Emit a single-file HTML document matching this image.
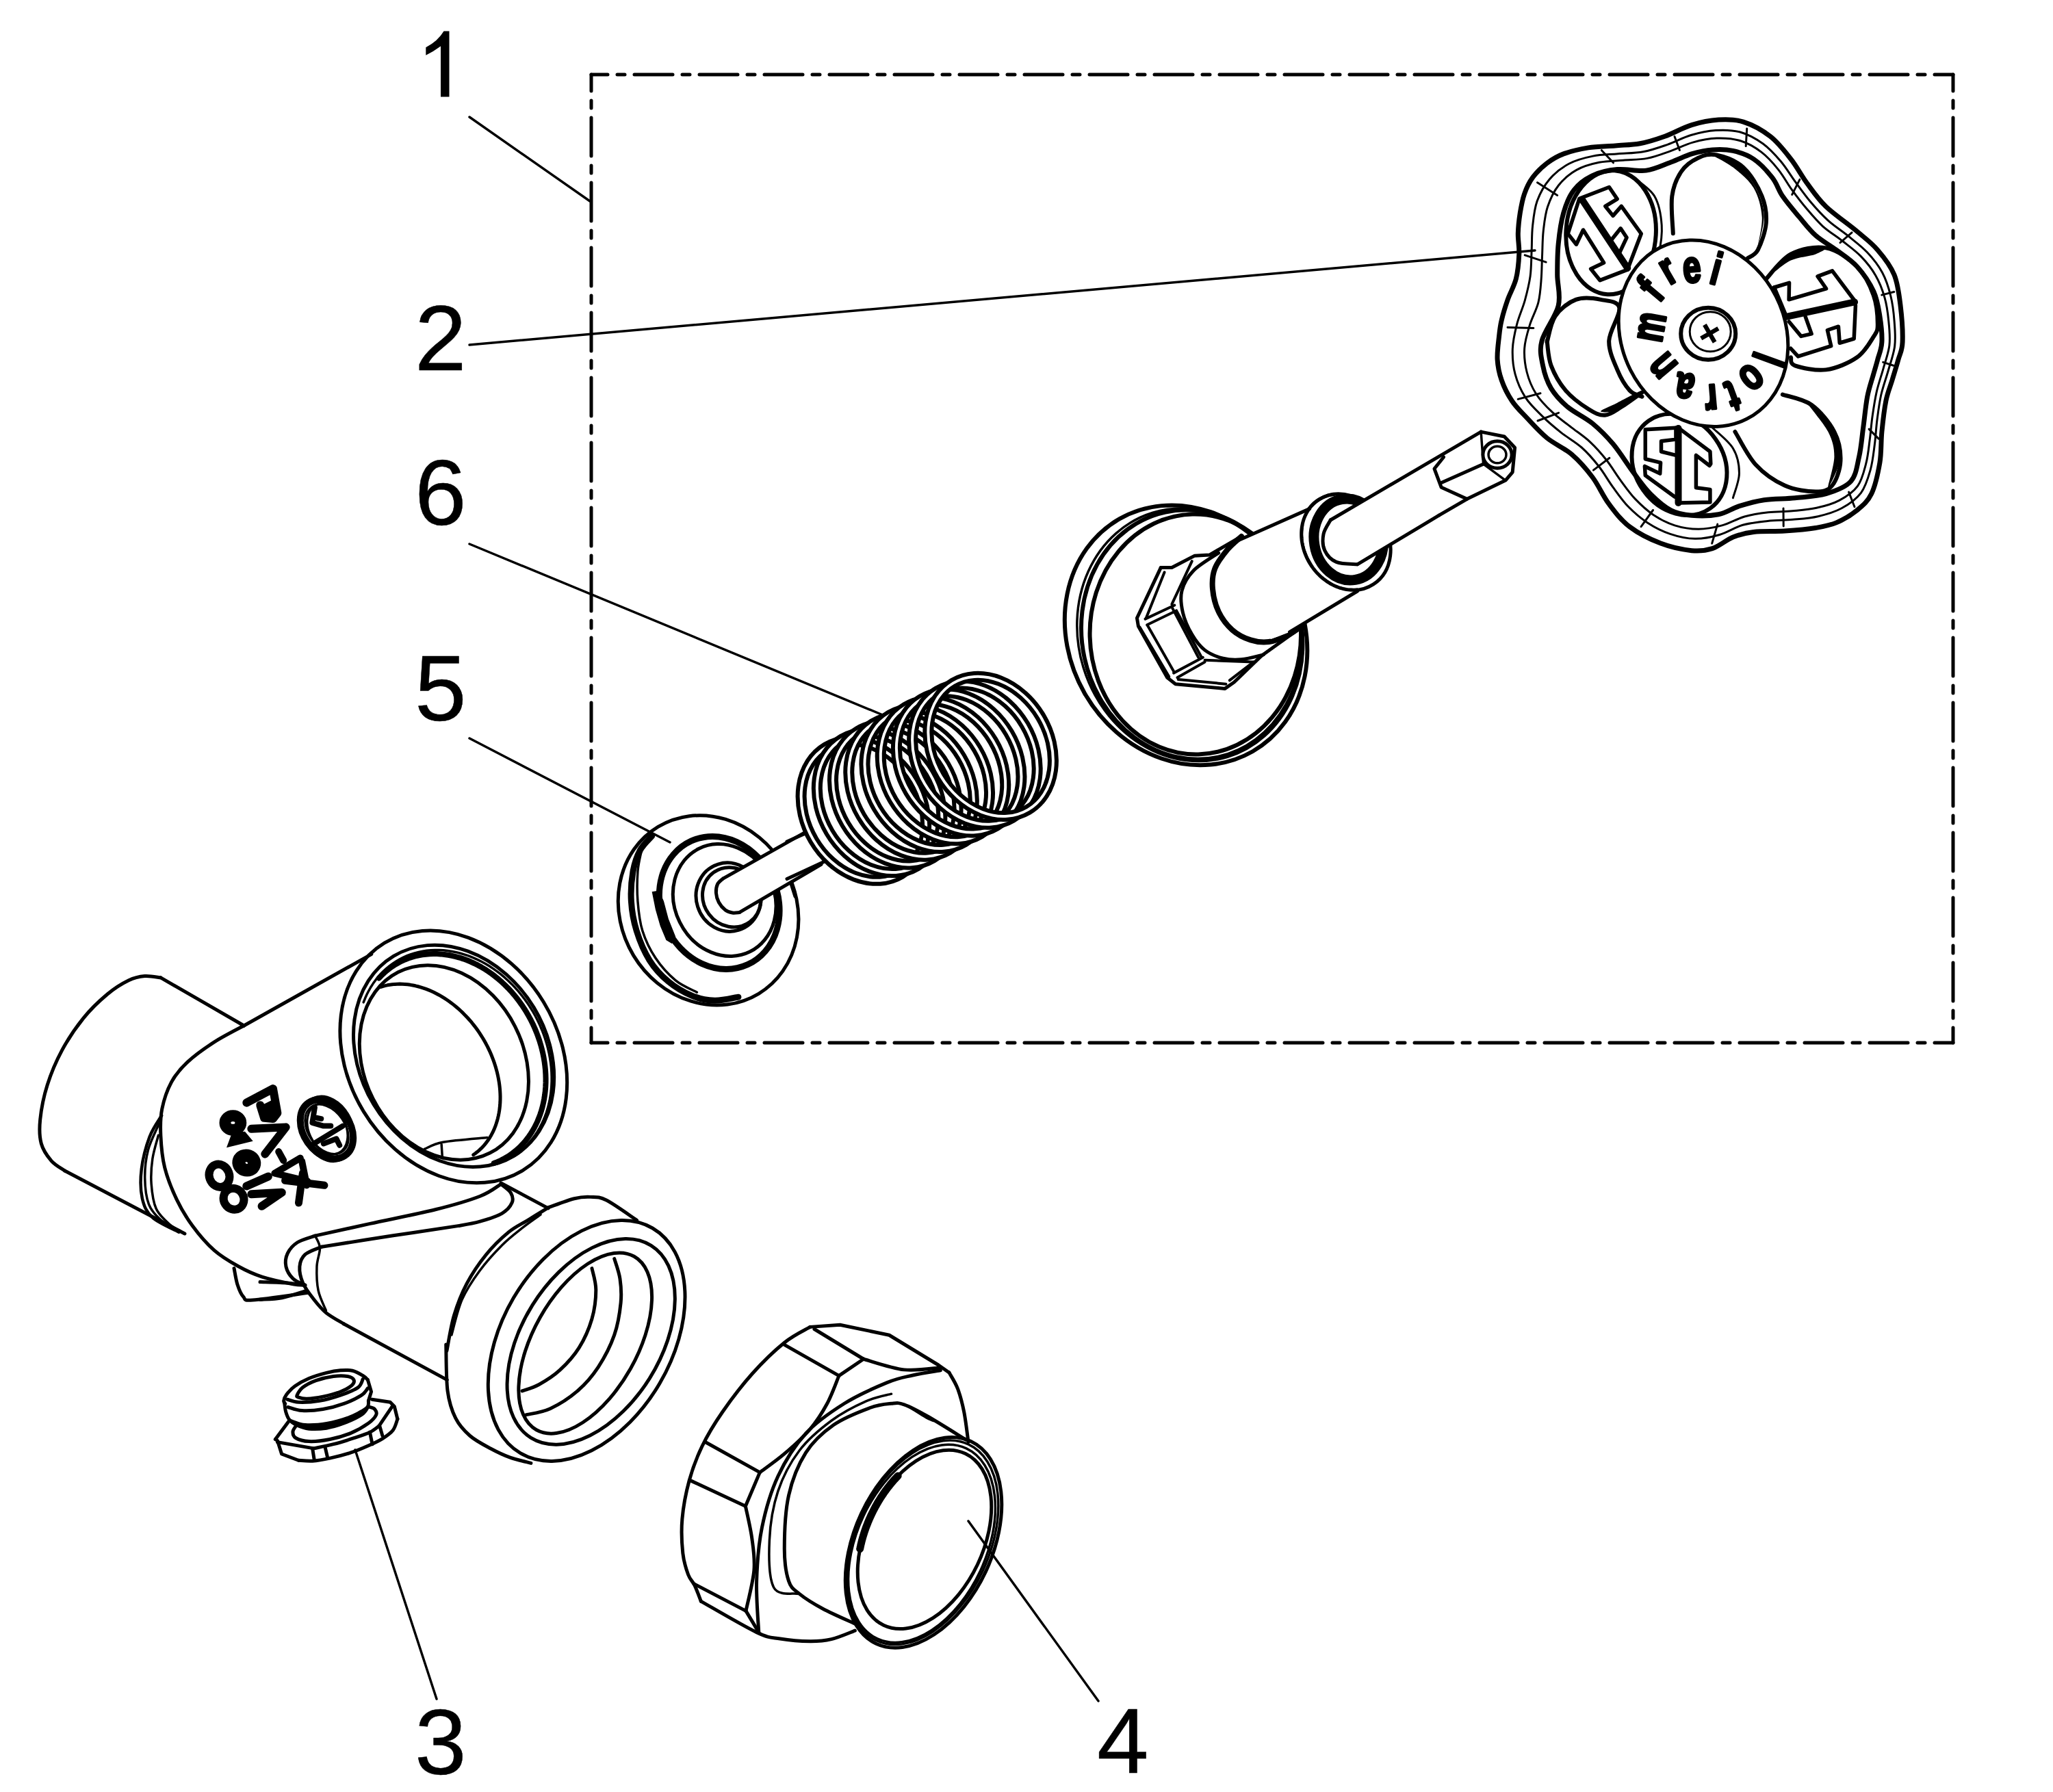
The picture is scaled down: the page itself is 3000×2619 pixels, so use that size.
<!DOCTYPE html>
<html><head><meta charset="utf-8">
<style>
html,body{margin:0;padding:0;background:#fff;width:3000px;height:2619px;overflow:hidden}
svg{display:block}
.num{font-family:"Liberation Sans",sans-serif;font-size:136px;fill:#000;stroke:#000;stroke-width:0.5}
</style></head><body>
<svg width="3000" height="2619" viewBox="0 0 3000 2619" stroke-linecap="round" stroke-linejoin="round">
<rect width="3000" height="2619" fill="#fff"/>
<path d="M656.5 45.5 L656.5 141.5 L644 141.5 L644 67.5 Q634 75 622.3 80.7 L622.3 69.3 Q640 60 648.5 45.5Z" fill="#000"/>
<text class="num" x="606" y="541">2</text>
<text class="num" x="606" y="767">6</text>
<text class="num" x="606" y="1053">5</text>
<text class="num" x="606" y="2593">3</text>
<text class="num" x="1603" y="2591">4</text>
<g fill="none" stroke="#000" stroke-width="3.5">
<path d="M686 171 L862 294"/>
<path d="M686 504 L2243 366"/>
<path d="M686 795 L1290 1045"/>
<path d="M686 1079 L979 1231"/>
<path d="M638 2483 L519 2119"/>
<path d="M1605 2486 L1415 2223"/>
</g>
<g fill="none" stroke="#000" stroke-width="5" stroke-dasharray="56 14 11 14" stroke-dashoffset="32">
<path d="M864 109 H2854"/>
<path d="M2854 109 V1524"/>
<path d="M864 1524 H2854"/>
<path d="M864 109 V1524"/>
</g>
<!-- body -->
<g transform="translate(40 1340) scale(0.389712)">
<path d="M812 408 C760 378 552 258 500 228" fill="none" stroke="#000" stroke-width="5" vector-effect="non-scaling-stroke"/>
<path d="M500 228 C490 227 460 220.3 440 222 C420 223.7 403.3 226.7 380 238 C356.7 249.3 328.3 266.3 300 290 C271.7 313.7 238.3 345 210 380 C181.7 415 152.5 458.3 130 500 C107.5 541.7 88.7 586.7 75 630 C61.3 673.3 51.8 723.3 48 760 C44.2 796.7 45 824.2 52 850 C59 875.8 75.3 898 90 915 C104.7 932 131.7 945.8 140 952" fill="none" stroke="#000" stroke-width="5" vector-effect="non-scaling-stroke"/>
<path d="M140 952 C215 991.3 515 1148.7 590 1188" fill="none" stroke="#000" stroke-width="5" vector-effect="non-scaling-stroke"/>
<path d="M1290 140 C1210.3 184.7 891.7 363.3 812 408" fill="none" stroke="#000" stroke-width="5" vector-effect="non-scaling-stroke"/>
<path d="M812 408 C793.3 418.3 735.3 447.2 700 470 C664.7 492.8 626.7 520 600 545 C573.3 570 555.8 590.8 540 620 C524.2 649.2 511.7 686.7 505 720 C498.3 753.3 498.3 783.3 500 820 C501.7 856.7 505 900 515 940 C525 980 542.5 1023.3 560 1060 C577.5 1096.7 596.7 1128.3 620 1160 C643.3 1191.7 671.7 1225 700 1250 C728.3 1275 760 1293.3 790 1310 C820 1326.7 845 1338.7 880 1350 C915 1361.3 973.3 1373 1000 1378 C1026.7 1383 1033.3 1379.7 1040 1380" fill="none" stroke="#000" stroke-width="5" vector-effect="non-scaling-stroke"/>
<path d="M775 1318 C777.2 1328.3 782.2 1362.2 788 1380 C793.8 1397.8 800.5 1415.5 810 1425 C819.5 1434.5 805 1439.5 845 1437 C885 1434.5 1015.8 1414.5 1050 1410" fill="none" stroke="#000" stroke-width="5" vector-effect="non-scaling-stroke"/>
<ellipse cx="1125" cy="795" rx="92" ry="125" transform="rotate(-25 1125 795)" fill="none" stroke="#000" stroke-width="5" vector-effect="non-scaling-stroke"/>
<ellipse cx="1125" cy="795" rx="70" ry="100" transform="rotate(-25 1125 795)" fill="none" stroke="#000" stroke-width="3.5" vector-effect="non-scaling-stroke"/>
</g><g transform="translate(180 1580) scale(0.214316)">
<path d="M262 235 C248.3 259.2 202.8 319.2 180 380 C157.2 440.8 133.3 530 125 600 C116.7 670 117.5 745 130 800 C142.5 855 158.3 891.7 200 930 C241.7 968.3 350 1013.3 380 1030" fill="none" stroke="#000" stroke-width="4.5" vector-effect="non-scaling-stroke"/>
<path d="M245 290 C232.5 320 186.2 408.3 170 470 C153.8 531.7 147.2 598.3 148 660 C148.8 721.7 156.3 791.7 175 840 C193.7 888.3 225 919.2 260 950 C295 980.8 364.2 1012.5 385 1025" fill="none" stroke="#000" stroke-width="3.5" vector-effect="non-scaling-stroke"/>
<path d="M240 370 C233.3 396.7 208 475 200 530 C192 585 187.8 643.3 192 700 C196.2 756.7 203.7 823.3 225 870 C246.3 916.7 292.5 954.7 320 980 C347.5 1005.3 378.3 1015 390 1022" fill="none" stroke="#000" stroke-width="3.5" vector-effect="non-scaling-stroke"/>
</g><g transform="translate(480 1340) scale(0.223184)">
<ellipse cx="819" cy="915.9" rx="689.8" ry="871.4" transform="rotate(-31.3 819 915.9)" fill="none" stroke="#000" stroke-width="5" vector-effect="non-scaling-stroke"/>
<ellipse cx="820.4" cy="911" rx="613.2" ry="763.6" transform="rotate(-31.1 820.4 911)" fill="none" stroke="#000" stroke-width="5" vector-effect="non-scaling-stroke"/>
<ellipse cx="756.6" cy="954.2" rx="521.7" ry="663.8" transform="rotate(-26.9 756.6 954.2)" fill="none" stroke="#000" stroke-width="5" vector-effect="non-scaling-stroke"/>
<path d="M339.8 459.5 L354.9 454.8 L370.3 450.7 L385.9 447.3 L401.8 444.5 L417.9 442.3 L434.1 440.8 L450.6 439.9 L467.2 439.6 L484 440 L500.9 441.1 L517.9 442.8 L535.1 445.1 L552.2 448.1 L569.5 451.7 L586.7 455.9 L604 460.7 L621.3 466.2 L638.6 472.3 L655.8 479 L672.9 486.3 L690 494.2 L707 502.7 L723.9 511.7 L740.6 521.3 L757.2 531.5 L773.6 542.2 L789.9 553.5 L805.9 565.2 L821.7 577.5 L837.2 590.3 L852.5 603.5 L867.6 617.2 L882.3 631.4 L896.7 646 L910.8 661 L924.6 676.4 L938 692.2 L951.1 708.4 L963.8 724.9 L976 741.8 L987.9 758.9 L999.3 776.4 L1010.4 794.1 L1020.9 812.1 L1031 830.3 L1040.7 848.8 L1049.8 867.4 L1058.5 886.3 L1066.7 905.3 L1074.3 924.4 L1081.5 943.6 L1088.1 962.9 L1094.2 982.3 L1099.7 1001.8 L1104.8 1021.3 L1109.2 1040.8 L1113.1 1060.2 L1116.5 1079.7 L1119.3 1099.1 L1121.5 1118.4 L1123.1 1137.6 L1124.2 1156.7 L1124.8 1175.7 L1124.7 1194.5 L1124.1 1213.1 L1122.9 1231.5 L1121.1 1249.7 L1118.8 1267.7 L1115.9 1285.4 L1112.4 1302.8 L1108.4 1319.9 L1103.9 1336.7 L1098.7 1353.2 L1093.1 1369.3 L1086.9 1385.1 L1080.2 1400.5 L1072.9 1415.4 L1065.2 1430 L1056.9 1444.1 L1048.1 1457.7 L1038.9 1470.9 L1029.1 1483.6 L1019 1495.8 L1008.3 1507.5 L997.2 1518.7 L985.7 1529.3 L973.7 1539.4 L961.4 1549 L948.6 1557.9" fill="none" stroke="#000" stroke-width="5" vector-effect="non-scaling-stroke"/>
<path d="M229.3 559.6 L239.8 533.3 L251.3 507.7 L264 483 L277.7 459.1 L292.5 436.1 L308.3 414.1 L325.1 393 L342.9 373 L361.6 354.1 L381.1 336.2 L401.6 319.5 L422.8 304 L444.8 289.7 L467.5 276.6 L491 264.7 L515 254.1 L539.7 244.8 L564.9 236.9 L590.6 230.2 L616.7 224.9 L643.3 221 L670.2 218.4 L697.4 217.2 L724.8 217.3 L752.4 218.8 L780.2 221.7 L808.1 225.9 L835.9 231.5 L863.8 238.4 L891.6 246.7 L919.3 256.2 L946.7 267.1 L974 279.2 L1000.9 292.6 L1027.6 307.2 L1053.8 323 L1079.6 339.9 L1104.9 358 L1129.7 377.2 L1153.8 397.4 L1177.4 418.7 L1200.3 440.9 L1222.4 464.1 L1243.8 488.1 L1264.4 513.1 L1284.1 538.8 L1303 565.2 L1320.9 592.4 L1337.9 620.2 L1353.9 648.6 L1368.9 677.5 L1382.9 707 L1395.7 736.8 L1407.5 767 L1418.2 797.6 L1427.7 828.4 L1436.1 859.3 L1443.3 890.5 L1449.3 921.6 L1454.1 952.9 L1457.7 984 L1460.1 1015.1 L1461.2 1046 L1461.2 1076.6 L1459.9 1107 L1457.4 1137.1 L1453.7 1166.7 L1448.8 1195.9 L1442.7 1224.6 L1435.4 1252.7 L1426.9 1280.2 L1417.3 1307 L1406.5 1333.1 L1394.6 1358.4 L1381.7 1382.9 L1367.6 1406.6 L1352.6 1429.3 L1336.5 1451 L1319.4 1471.8 L1301.4 1491.5 L1282.4 1510.2 L1262.6 1527.7 L1241.9 1544.1 L1220.5 1559.2 L1198.3 1573.2 L1175.3 1586 L1151.7 1597.5 L1127.5 1607.7 L1102.7 1616.6" fill="none" stroke="#000" stroke-width="3.5" vector-effect="non-scaling-stroke"/>
<path d="M330.8 400.9 L347.1 383.7 L364.2 367.4 L382 351.9 L400.4 337.4 L419.4 323.9 L439.1 311.3 L459.3 299.8 L480.1 289.2 L501.4 279.7 L523.2 271.2 L545.4 263.8 L568 257.5 L591 252.2 L614.3 248 L637.9 245 L661.8 243 L685.9 242.1 L710.2 242.4 L734.6 243.7 L759.2 246.2 L783.8 249.7 L808.4 254.4 L833 260.1 L857.6 266.9 L882.1 274.8 L906.5 283.7 L930.7 293.7 L954.7 304.7 L978.5 316.7 L1001.9 329.7 L1025.1 343.6 L1047.9 358.5 L1070.4 374.4 L1092.4 391.1 L1113.9 408.7 L1135 427.1 L1155.5 446.4 L1175.5 466.4 L1194.9 487.2 L1213.7 508.7 L1231.8 530.9 L1249.3 553.7 L1266 577.2 L1282 601.2 L1297.3 625.8 L1311.7 650.9 L1325.4 676.4 L1338.3 702.4 L1350.3 728.7 L1361.4 755.4 L1371.6 782.3 L1381 809.5 L1389.4 837 L1396.9 864.6 L1403.5 892.3 L1409.2 920.1 L1413.8 947.9 L1417.5 975.7 L1420.3 1003.5 L1422 1031.2 L1422.8 1058.7 L1422.6 1086 L1421.4 1113.2 L1419.3 1140 L1416.1 1166.6 L1412 1192.7 L1407 1218.5 L1401 1243.9 L1394 1268.8 L1386.1 1293.1 L1377.3 1316.9 L1367.6 1340.2 L1357 1362.8 L1345.5 1384.7 L1333.1 1405.9 L1319.9 1426.4 L1305.9 1446.1 L1291.1 1465.1 L1275.6 1483.2 L1259.3 1500.4 L1242.2 1516.8 L1224.5 1532.3 L1206.1 1546.8 L1187.1 1560.4 L1167.4 1573 L1147.2 1584.6 L1126.5 1595.2 L1105.2 1604.8 L1083.5 1613.3" fill="none" stroke="#000" stroke-width="8" vector-effect="non-scaling-stroke"/>
<path d="M630 1520 C650 1512.5 681.7 1487.5 750 1475 C818.3 1462.5 991.7 1450 1040 1445" fill="none" stroke="#000" stroke-width="3.5" vector-effect="non-scaling-stroke"/>
<path d="M740 1490 L745 1570" fill="none" stroke="#000" stroke-width="3.5" vector-effect="non-scaling-stroke"/>
</g><g transform="translate(380 1700) scale(0.321481)">
<path d="M1095 90 L1310 205" fill="none" stroke="#000" stroke-width="5" vector-effect="non-scaling-stroke"/>
<path d="M250 330 C291.7 320.8 408.3 295 500 275 C591.7 255 716.7 230.8 800 210 C883.3 189.2 950.8 169.2 1000 150 C1049.2 130.8 1079.2 104.2 1095 95" fill="none" stroke="#000" stroke-width="5" vector-effect="non-scaling-stroke"/>
<path d="M1095 95 C1102.5 101.7 1131.7 120.8 1140 135 C1148.3 149.2 1151.7 164.5 1145 180 C1138.3 195.5 1124.2 213.8 1100 228 C1075.8 242.2 1033.3 255.5 1000 265 C966.7 274.5 966.7 274.2 900 285 C833.3 295.8 703.3 314.2 600 330 C496.7 345.8 333.3 371.7 280 380" fill="none" stroke="#000" stroke-width="5" vector-effect="non-scaling-stroke"/>
<path d="M250 330 C236.7 335 190.8 346.7 170 360 C149.2 373.3 133.7 391.7 125 410 C116.3 428.3 113.8 450.8 118 470 C122.2 489.2 135.5 510.8 150 525 C164.5 539.2 195.8 550 205 555" fill="none" stroke="#000" stroke-width="5" vector-effect="non-scaling-stroke"/>
<path d="M280 380 C267.5 385.8 221.7 400 205 415 C188.3 430 181.7 448.3 180 470 C178.3 491.7 184.2 520 195 545 C205.8 570 227.5 597.5 245 620 C262.5 642.5 277.5 661.7 300 680 C322.5 698.3 366.7 721.7 380 730" fill="none" stroke="#000" stroke-width="5" vector-effect="non-scaling-stroke"/>
<path d="M380 730 L850 985" fill="none" stroke="#000" stroke-width="5" vector-effect="non-scaling-stroke"/>
<path d="M250 330 C253.7 339.2 270.7 361.7 272 385 C273.3 408.3 259.2 437.5 258 470 C256.8 502.5 258 546.7 265 580 C272 613.3 294.2 655 300 670" fill="none" stroke="#000" stroke-width="3.5" vector-effect="non-scaling-stroke"/>
<path d="M0 540 C21.7 540.8 95.8 542.5 130 545 C164.2 547.5 192.5 553.3 205 555" fill="none" stroke="#000" stroke-width="5" vector-effect="non-scaling-stroke"/>
<path d="M0 620 C16.7 618.7 65 618.7 100 612 C135 605.3 191.7 585.3 210 580" fill="none" stroke="#000" stroke-width="5" vector-effect="non-scaling-stroke"/>
</g><g transform="translate(640 1740) scale(0.234324)">
<path d="M690 105 C716.7 95.8 806.7 60.8 850 50 C893.3 39.2 916.7 38.3 950 40 C983.3 41.7 1001.7 35.8 1050 60 C1098.3 84.2 1208.3 164.2 1240 185" fill="none" stroke="#000" stroke-width="5" vector-effect="non-scaling-stroke"/>
<path d="M50 960 C51.7 1008.3 50 1173.3 60 1250 C70 1326.7 86.7 1373.3 110 1420 C133.3 1466.7 163.3 1498.3 200 1530 C236.7 1561.7 288.3 1587.5 330 1610 C371.7 1632.5 408.3 1650 450 1665 C491.7 1680 558.3 1694.2 580 1700" fill="none" stroke="#000" stroke-width="5" vector-effect="non-scaling-stroke"/>
<path d="M55 1000 C62.5 963.3 79.2 850 100 780 C120.8 710 146.7 643.3 180 580 C213.3 516.7 256.7 453.3 300 400 C343.3 346.7 396.7 295.8 440 260 C483.3 224.2 518.3 210.8 560 185 C601.7 159.2 668.3 118.3 690 105" fill="none" stroke="#000" stroke-width="5" vector-effect="non-scaling-stroke"/>
<path d="M85 900 C95.8 863.3 120.8 746.7 150 680 C179.2 613.3 218.3 556.7 260 500 C301.7 443.3 355 385 400 340 C445 295 490 261.7 530 230 C570 198.3 621.7 163.3 640 150" fill="none" stroke="#000" stroke-width="3.5" vector-effect="non-scaling-stroke"/>
<ellipse cx="926.7" cy="936.5" rx="528" ry="813.7" transform="rotate(30.4 926.7 936.5)" fill="none" stroke="#000" stroke-width="5" vector-effect="non-scaling-stroke"/>
<ellipse cx="954.6" cy="942.4" rx="430.9" ry="707.1" transform="rotate(32 954.6 942.4)" fill="none" stroke="#000" stroke-width="5" vector-effect="non-scaling-stroke"/>
<ellipse cx="918.5" cy="951.7" rx="324.3" ry="620.8" transform="rotate(29.4 918.5 951.7)" fill="none" stroke="#000" stroke-width="5" vector-effect="non-scaling-stroke"/>
<path d="M1100 425 C1105.8 445.8 1128.3 504.2 1135 550 C1141.7 595.8 1145.8 641.7 1140 700 C1134.2 758.3 1123.3 833.3 1100 900 C1076.7 966.7 1038.3 1041.7 1000 1100 C961.7 1158.3 920 1206.7 870 1250 C820 1293.3 754.2 1335 700 1360 C645.8 1385 570.8 1393.3 545 1400" fill="none" stroke="#000" stroke-width="5" vector-effect="non-scaling-stroke"/>
<path d="M960 485 C964.2 507.5 985 567.5 985 620 C985 672.5 977.5 740 960 800 C942.5 860 913.3 926.7 880 980 C846.7 1033.3 801.7 1081.7 760 1120 C718.3 1158.3 669.2 1188.3 630 1210 C590.8 1231.7 542.5 1243.3 525 1250" fill="none" stroke="#000" stroke-width="5" vector-effect="non-scaling-stroke"/>
</g><g transform="translate(290 1580) scale(0.117165)">
<path d="M600 270 L930 95 L985 400 L930 470 L820 460 L770 300" fill="none" stroke="#000" stroke-width="12" vector-effect="non-scaling-stroke"/>
<path d="M790 300 L930 230 L960 400 L900 450 L820 440Z" fill="#000"/>
<path d="M660 595 L1090 575 L830 910" fill="none" stroke="#000" stroke-width="12" vector-effect="non-scaling-stroke"/>
<path d="M1000 880 L1060 990" fill="none" stroke="#000" stroke-width="10" vector-effect="non-scaling-stroke"/>
<path d="M1270 960 L950 1150 L1360 1250" fill="none" stroke="#000" stroke-width="10" vector-effect="non-scaling-stroke"/>
<path d="M1290 1000 L1350 1300" fill="none" stroke="#000" stroke-width="10" vector-effect="non-scaling-stroke"/>
<path d="M1080 1240 L1570 1300" fill="none" stroke="#000" stroke-width="11" vector-effect="non-scaling-stroke"/>
<path d="M1250 1520 L1300 1150" fill="none" stroke="#000" stroke-width="11" vector-effect="non-scaling-stroke"/>
<ellipse cx="430" cy="520" rx="110" ry="100" transform="rotate(0 430 520)" fill="none" stroke="#000" stroke-width="14" vector-effect="non-scaling-stroke"/>
<ellipse cx="430" cy="520" rx="60" ry="50" transform="rotate(0 430 520)" fill="none" stroke="#000" stroke-width="8" vector-effect="non-scaling-stroke"/>
<path d="M350 830 L680 750 L580 630 L420 640Z" fill="#000"/>
<ellipse cx="600" cy="1020" rx="120" ry="110" transform="rotate(20 600 1020)" fill="none" stroke="#000" stroke-width="14" vector-effect="non-scaling-stroke"/>
<ellipse cx="600" cy="1020" rx="50" ry="45" transform="rotate(20 600 1020)" fill="none" stroke="#000" stroke-width="8" vector-effect="non-scaling-stroke"/>
<ellipse cx="260" cy="1180" rx="125" ry="145" transform="rotate(-20 260 1180)" fill="none" stroke="#000" stroke-width="12" vector-effect="non-scaling-stroke"/>
<ellipse cx="440" cy="1470" rx="125" ry="135" transform="rotate(-30 440 1470)" fill="none" stroke="#000" stroke-width="12" vector-effect="non-scaling-stroke"/>
<path d="M600 1310 L870 1190" fill="none" stroke="#000" stroke-width="12" vector-effect="non-scaling-stroke"/>
<path d="M660 1410 L1040 1390 L790 1560" fill="none" stroke="#000" stroke-width="12" vector-effect="non-scaling-stroke"/>
<ellipse cx="1600" cy="600" rx="290" ry="400" transform="rotate(-35 1600 600)" fill="none" stroke="#000" stroke-width="10" vector-effect="non-scaling-stroke"/>
<ellipse cx="1600" cy="600" rx="230" ry="340" transform="rotate(-35 1600 600)" fill="none" stroke="#000" stroke-width="3" vector-effect="non-scaling-stroke"/>
<path d="M1450 330 L1420 520 L1560 560 L1650 560" fill="none" stroke="#000" stroke-width="8" vector-effect="non-scaling-stroke"/>
<path d="M1440 780 L1800 560" fill="none" stroke="#000" stroke-width="8" vector-effect="non-scaling-stroke"/>
<path d="M1560 780 L1720 720 L1760 800" fill="none" stroke="#000" stroke-width="8" vector-effect="non-scaling-stroke"/>
<path d="M1480 460 L1530 470" fill="none" stroke="#000" stroke-width="8" vector-effect="non-scaling-stroke"/>
</g>
<!-- plug -->
<g transform="translate(385 1990) scale(0.102291)">
<path d="M170 1110 L370 840" fill="none" stroke="#000" stroke-width="5" vector-effect="non-scaling-stroke"/>
<path d="M1550 540 L1810 580 L1870 640 L1915 820" fill="none" stroke="#000" stroke-width="5" vector-effect="non-scaling-stroke"/>
<path d="M1915 820 C1904.2 846.7 1885.8 933.3 1850 980 C1814.2 1026.7 1758.3 1063.3 1700 1100 C1641.7 1136.7 1575 1166.7 1500 1200 C1425 1233.3 1341.7 1270 1250 1300 C1158.3 1330 1041.7 1360 950 1380 C858.3 1400 775 1415 700 1420 C625 1425 533.3 1411.7 500 1410" fill="none" stroke="#000" stroke-width="5" vector-effect="non-scaling-stroke"/>
<path d="M500 1410 L260 1320 L200 1130 L170 1110" fill="none" stroke="#000" stroke-width="5" vector-effect="non-scaling-stroke"/>
<path d="M200 1150 L720 1240" fill="none" stroke="#000" stroke-width="5" vector-effect="non-scaling-stroke"/>
<path d="M720 1240 C766.7 1230 903.3 1205 1000 1180 C1096.7 1155 1213.3 1118.3 1300 1090 C1386.7 1061.7 1461.7 1038.3 1520 1010 C1578.3 981.7 1628.3 935 1650 920" fill="none" stroke="#000" stroke-width="5" vector-effect="non-scaling-stroke"/>
<path d="M1650 920 L1840 640" fill="none" stroke="#000" stroke-width="5" vector-effect="non-scaling-stroke"/>
<path d="M700 1240 L725 1400" fill="none" stroke="#000" stroke-width="5" vector-effect="non-scaling-stroke"/>
<path d="M880 1220 L915 1370" fill="none" stroke="#000" stroke-width="5" vector-effect="non-scaling-stroke"/>
<path d="M1520 1010 L1555 1180" fill="none" stroke="#000" stroke-width="5" vector-effect="non-scaling-stroke"/>
<path d="M1660 920 L1700 1060" fill="none" stroke="#000" stroke-width="5" vector-effect="non-scaling-stroke"/>
<path d="M470 910 C461.7 925 421.7 970 420 1000 C418.3 1030 421.7 1066.7 460 1090 C498.3 1113.3 568.3 1136.7 650 1140 C731.7 1143.3 850 1130 950 1110 C1050 1090 1158.3 1058.3 1250 1020 C1341.7 981.7 1440 923.3 1500 880 C1560 836.7 1595 793.3 1610 760 C1625 726.7 1605 698.3 1590 680 C1575 661.7 1531.7 655 1520 650" fill="none" stroke="#000" stroke-width="5" vector-effect="non-scaling-stroke"/>
<path d="M300 590 C303.3 611.7 308.3 680 320 720 C331.7 760 343.3 798.3 370 830 C396.7 861.7 433.3 888.3 480 910 C526.7 931.7 580 953.3 650 960 C720 966.7 816.7 963.3 900 950 C983.3 936.7 1066.7 911.7 1150 880 C1233.3 848.3 1343.3 798.3 1400 760 C1456.7 721.7 1473.3 683.3 1490 650 C1506.7 616.7 1498.3 575 1500 560" fill="none" stroke="#000" stroke-width="5" vector-effect="non-scaling-stroke"/>
<path d="M1500 560 L1540 430 L1490 260" fill="none" stroke="#000" stroke-width="5" vector-effect="non-scaling-stroke"/>
<path d="M310 600 C306.7 593.3 286.7 581.7 290 560 C293.3 538.3 303.3 505 330 470 C356.7 435 396.7 388.3 450 350 C503.3 311.7 575 271.7 650 240 C725 208.3 825 179.2 900 160 C975 140.8 1038.3 130 1100 125 C1161.7 120 1216.7 117.5 1270 130 C1323.3 142.5 1383.3 178.3 1420 200 C1456.7 221.7 1478.3 250 1490 260" fill="none" stroke="#000" stroke-width="5" vector-effect="non-scaling-stroke"/>
<path d="M480 480 C490 456.7 515 405 560 370 C605 335 676.7 296.7 750 270 C823.3 243.3 925 220 1000 210 C1075 200 1151.7 201.7 1200 210 C1248.3 218.3 1280 238.3 1290 260 C1300 281.7 1291.7 311.7 1260 340 C1228.3 368.3 1168.3 403.3 1100 430 C1031.7 456.7 930 483.3 850 500 C770 516.7 678.3 528.3 620 530 C561.7 531.7 523.3 518.3 500 510 C476.7 501.7 470 503.3 480 480Z" fill="none" stroke="#000" stroke-width="5" vector-effect="non-scaling-stroke"/>
<path d="M340 540 C366.7 546.7 423.3 576.7 500 580 C576.7 583.3 700 576.7 800 560 C900 543.3 1008.3 511.7 1100 480 C1191.7 448.3 1296.7 408.3 1350 370 C1403.3 331.7 1408.3 270 1420 250" fill="none" stroke="#000" stroke-width="5" vector-effect="non-scaling-stroke"/>
<path d="M350 650 C383.3 658.3 466.7 695 550 700 C633.3 705 750 696.7 850 680 C950 663.3 1058.3 633.3 1150 600 C1241.7 566.7 1343.3 516.7 1400 480 C1456.7 443.3 1475 396.7 1490 380" fill="none" stroke="#000" stroke-width="5" vector-effect="non-scaling-stroke"/>
<path d="M380 820 C408.3 820 513.3 873.3 600 880 C686.7 886.7 800 876.7 900 860 C1000 843.3 1108.3 815 1200 780 C1291.7 745 1400 686.7 1450 650 C1500 613.3 1496.7 555 1500 560 C1503.3 565 1495 641.7 1470 680 C1445 718.3 1411.7 753.3 1350 790 C1288.3 826.7 1191.7 871.7 1100 900 C1008.3 928.3 891.7 953.3 800 960 C708.3 966.7 611.7 953.3 550 940 C488.3 926.7 458.3 900 430 880 C401.7 860 351.7 820 380 820Z" fill="#000"/>
</g>
<!-- union -->
<g transform="translate(990 1920) scale(0.312500)">
<path d="M620 62 L760 52 L990 100 L1220 240 L1270 275" fill="none" stroke="#000" stroke-width="5" vector-effect="non-scaling-stroke"/>
<path d="M1270 275 C1276.7 287.5 1298.3 319.2 1310 350 C1321.7 380.8 1331.7 418.3 1340 460 C1348.3 501.7 1356.7 576.7 1360 600" fill="none" stroke="#000" stroke-width="5" vector-effect="non-scaling-stroke"/>
<path d="M620 62 C600 74.2 545 98.7 500 135 C455 171.3 398.3 225.8 350 280 C301.7 334.2 249.2 403.3 210 460 C170.8 516.7 140.8 566.7 115 620 C89.2 673.3 70.5 723.3 55 780 C39.5 836.7 27 903.3 22 960 C17 1016.7 20.3 1076.7 25 1120 C29.7 1163.3 40.8 1195 50 1220 C59.2 1245 70 1249.2 80 1270 C90 1290.8 105 1332.5 110 1345" fill="none" stroke="#000" stroke-width="5" vector-effect="non-scaling-stroke"/>
<path d="M110 1345 C153.3 1369.2 308.3 1460.8 370 1490 C431.7 1519.2 438.3 1513 480 1520 C521.7 1527 580 1531.7 620 1532 C660 1532.3 685 1530.3 720 1522 C755 1513.7 811.7 1488.7 830 1482" fill="none" stroke="#000" stroke-width="5" vector-effect="non-scaling-stroke"/>
<path d="M500 145 L755 290" fill="none" stroke="#000" stroke-width="5" vector-effect="non-scaling-stroke"/>
<path d="M640 72 L870 212" fill="none" stroke="#000" stroke-width="5" vector-effect="non-scaling-stroke"/>
<path d="M755 290 L870 212" fill="none" stroke="#000" stroke-width="5" vector-effect="non-scaling-stroke"/>
<path d="M870 212 C901.7 220.3 1000 255.3 1060 262 C1120 268.7 1201.7 253.7 1230 252" fill="none" stroke="#000" stroke-width="5" vector-effect="non-scaling-stroke"/>
<path d="M755 290 C745.8 311.7 722.5 378.3 700 420 C677.5 461.7 653.3 500.8 620 540 C586.7 579.2 539.2 621.3 500 655 C460.8 688.7 404.2 727.5 385 742" fill="none" stroke="#000" stroke-width="5" vector-effect="non-scaling-stroke"/>
<path d="M130 600 L385 742" fill="none" stroke="#000" stroke-width="5" vector-effect="non-scaling-stroke"/>
<path d="M385 742 L318 900" fill="none" stroke="#000" stroke-width="5" vector-effect="non-scaling-stroke"/>
<path d="M65 782 L318 900" fill="none" stroke="#000" stroke-width="5" vector-effect="non-scaling-stroke"/>
<path d="M318 900 C323 925 341.3 1000 348 1050 C354.7 1100 362.7 1143.3 358 1200 C353.3 1256.7 326.3 1358.3 320 1390" fill="none" stroke="#000" stroke-width="5" vector-effect="non-scaling-stroke"/>
<path d="M75 1262 L320 1390" fill="none" stroke="#000" stroke-width="5" vector-effect="non-scaling-stroke"/>
<path d="M320 1390 L380 1490" fill="none" stroke="#000" stroke-width="5" vector-effect="non-scaling-stroke"/>
<path d="M380 1490 C378.3 1450 367.5 1331.7 370 1250 C372.5 1168.3 378.3 1081.7 395 1000 C411.7 918.3 435.8 833.3 470 760 C504.2 686.7 548.3 616.7 600 560 C651.7 503.3 716.7 459.7 780 420 C843.3 380.3 926.7 344 980 322 C1033.3 300 1058.3 297.5 1100 288 C1141.7 278.5 1208.3 268.8 1230 265" fill="none" stroke="#000" stroke-width="5" vector-effect="non-scaling-stroke"/>
<path d="M560 1310 C541.7 1305 471.7 1321.7 450 1280 C428.3 1238.3 426.7 1135 430 1060 C433.3 985 446.7 900 470 830 C493.3 760 528.3 695 570 640 C611.7 585 668.3 538.3 720 500 C771.7 461.7 833.3 430.8 880 410 C926.7 389.2 980 380.8 1000 375" fill="none" stroke="#000" stroke-width="3.5" vector-effect="non-scaling-stroke"/>
<path d="M1350 590 C1320 571.7 1218.3 507.5 1170 480 C1121.7 452.5 1088.3 435 1060 425 C1031.7 415 1026.7 417.5 1000 420 C973.3 422.5 945 423.3 900 440 C855 456.7 780 485 730 520 C680 555 635 595 600 650 C565 705 536.7 775 520 850 C503.3 925 500 1033.3 500 1100 C500 1166.7 508.3 1215 520 1250 C531.7 1285 543.3 1288.3 570 1310 C596.7 1331.7 636.7 1356.7 680 1380 C723.3 1403.3 805 1438.3 830 1450" fill="none" stroke="#000" stroke-width="5" vector-effect="non-scaling-stroke"/>
<path d="M1060 425 C1068.3 427.5 1106.7 441.7 1130 455 C1153.3 468.3 1195 499.2 1200 505 C1205 510.8 1180 500.8 1160 490 C1140 479.2 1096.7 450.8 1080 440 C1063.3 429.2 1051.7 422.5 1060 425Z" fill="#000"/>
<path d="M560 1300 C563.3 1303.3 616.7 1345 640 1360 C663.3 1375 703.3 1393.3 700 1390 C696.7 1386.7 643.3 1355 620 1340 C596.7 1325 556.7 1296.7 560 1300Z" fill="#000"/>
<ellipse cx="1150.5" cy="1069.9" rx="321.2" ry="522.3" transform="rotate(25.1 1150.5 1069.9)" fill="none" stroke="#000" stroke-width="5" vector-effect="non-scaling-stroke"/>
<ellipse cx="1145.5" cy="1069.9" rx="311.5" ry="506.7" transform="rotate(25.1 1145.5 1069.9)" fill="none" stroke="#000" stroke-width="3.5" vector-effect="non-scaling-stroke"/>
<ellipse cx="1142.5" cy="1074.9" rx="301.9" ry="491" transform="rotate(25.1 1142.5 1074.9)" fill="none" stroke="#000" stroke-width="3.5" vector-effect="non-scaling-stroke"/>
<ellipse cx="1155.2" cy="1055.6" rx="274.2" ry="444.5" transform="rotate(25.5 1155.2 1055.6)" fill="none" stroke="#000" stroke-width="5" vector-effect="non-scaling-stroke"/>
<path d="M853.3 1099.5 L854.2 1095.3 L855 1091.1 L856 1086.9 L856.9 1082.7 L857.9 1078.5 L858.9 1074.3 L859.9 1070.1 L860.9 1065.9 L862 1061.7 L863.1 1057.5 L864.3 1053.3 L865.5 1049.1 L866.7 1044.9 L867.9 1040.7 L869.2 1036.5 L870.5 1032.3 L871.8 1028.1 L873.1 1023.9 L874.5 1019.7 L875.9 1015.5 L877.4 1011.3 L878.8 1007.1 L880.3 1003 L881.8 998.8 L883.4 994.6 L885 990.5 L886.6 986.3 L888.2 982.2 L889.9 978 L891.5 973.9 L893.2 969.8 L895 965.6 L896.7 961.5 L898.5 957.4 L900.3 953.4 L902.2 949.3 L904.1 945.2 L905.9 941.2 L907.9 937.1 L909.8 933.1 L911.8 929.1 L913.8 925.1 L915.8 921.1 L917.8 917.1 L919.9 913.1 L922 909.2 L924.1 905.3 L926.2 901.3 L928.4 897.4 L930.6 893.6 L932.8 889.7 L935 885.8 L937.2 882 L939.5 878.2 L941.8 874.4 L944.1 870.6 L946.5 866.8 L948.8 863.1 L951.2 859.4 L953.6 855.6 L956 852 L958.5 848.3 L960.9 844.7 L963.4 841 L965.9 837.4 L968.4 833.9 L970.9 830.3 L973.5 826.8 L976.1 823.3 L978.7 819.8 L981.3 816.3 L983.9 812.9 L986.5 809.4 L989.2 806.1 L991.9 802.7 L994.6 799.4 L997.3 796 L1000 792.8 L1002.8 789.5 L1005.5 786.3 L1008.3 783.1 L1011.1 779.9 L1013.9 776.7 L1016.7 773.6 L1019.5 770.5 L1022.4 767.5 L1025.2 764.4 L1028.1 761.4 L1031 758.4" fill="none" stroke="#000" stroke-width="11" vector-effect="non-scaling-stroke"/>
</g>
<!-- disc -->
<g transform="translate(880 1170) scale(0.172980)">
<ellipse cx="896.6" cy="927" rx="738.7" ry="823.1" transform="rotate(-31.1 896.6 927)" fill="none" stroke="#000" stroke-width="5" vector-effect="non-scaling-stroke"/>
<path d="M420 300 C403.3 320 346.7 370 320 420 C293.3 470 272.5 528.3 260 600 C247.5 671.7 240 766.7 245 850 C250 933.3 264.2 1016.7 290 1100 C315.8 1183.3 355 1278.3 400 1350 C445 1421.7 500 1480 560 1530 C620 1580 695 1623.3 760 1650 C825 1676.7 885 1688.3 950 1690 C1015 1691.7 1116.7 1665 1150 1660" fill="none" stroke="#000" stroke-width="9" vector-effect="non-scaling-stroke"/>
<path d="M330 430 C325 458.3 305 530 300 600 C295 670 293.3 766.7 300 850 C306.7 933.3 315 1020 340 1100 C365 1180 403.3 1260 450 1330 C496.7 1400 561.7 1471.7 620 1520 C678.3 1568.3 770 1603.3 800 1620" fill="none" stroke="#000" stroke-width="3.5" vector-effect="non-scaling-stroke"/>
<ellipse cx="989.9" cy="863.9" rx="493" ry="574" transform="rotate(-24.6 989.9 863.9)" fill="none" stroke="#000" stroke-width="9" vector-effect="non-scaling-stroke"/>
<ellipse cx="1032.8" cy="841.2" rx="421.4" ry="485.7" transform="rotate(-26.4 1032.8 841.2)" fill="none" stroke="#000" stroke-width="5" vector-effect="non-scaling-stroke"/>
<ellipse cx="1066.9" cy="815.7" rx="272.6" ry="291.6" transform="rotate(-17.6 1066.9 815.7)" fill="none" stroke="#000" stroke-width="5" vector-effect="non-scaling-stroke"/>
<ellipse cx="1093.4" cy="817" rx="239.1" ry="259.1" transform="rotate(-36.6 1093.4 817)" fill="none" stroke="#000" stroke-width="5" vector-effect="non-scaling-stroke"/>
<path d="M1020 660 L1720 265 L1850 230 L1850 540 L1160 945 L1080 945 C1020 920 970 850 962 780 C960 720 985 680 1020 660Z" fill="#fff" stroke="none"/>
<path d="M1020 660 L1720 265" fill="none" stroke="#000" stroke-width="5" vector-effect="non-scaling-stroke"/>
<path d="M1160 945 L1850 540" fill="none" stroke="#000" stroke-width="5" vector-effect="non-scaling-stroke"/>
<path d="M1020 660 C1012.5 667.5 984.7 685 975 705 C965.3 725 960.3 754.2 962 780 C963.7 805.8 972 835.8 985 860 C998 884.2 1020.8 910.3 1040 925 C1059.2 939.7 1080 944.7 1100 948 C1120 951.3 1150 945.5 1160 945" fill="none" stroke="#000" stroke-width="5" vector-effect="non-scaling-stroke"/>
<path d="M420 770 L480 760 L520 850 L560 1000 L620 1150 L590 1210 L540 1180 L490 1060 L450 920Z" fill="#000"/>
</g>
<!-- spring -->
<g transform="translate(1150 960) scale(0.199720)">
<path d="M0 1352 L160 1280" fill="none" stroke="#000" stroke-width="5" vector-effect="non-scaling-stroke"/>
<path d="M0 1625 L270 1500" fill="none" stroke="#000" stroke-width="5" vector-effect="non-scaling-stroke"/>
<path d="M30 1660 L60 1753" fill="none" stroke="#000" stroke-width="5" vector-effect="non-scaling-stroke"/>
<ellipse cx="560.2" cy="1125.3" rx="425.1" ry="538.1" transform="rotate(-30.6 560.2 1125.3)" fill="none" stroke="#000" stroke-width="16" vector-effect="non-scaling-stroke"/>
<ellipse cx="560.2" cy="1125.3" rx="425.1" ry="538.1" transform="rotate(-30.6 560.2 1125.3)" fill="none" stroke="#fff" stroke-width="4" vector-effect="non-scaling-stroke"/>
<ellipse cx="676.5" cy="1066.5" rx="425.1" ry="538.1" transform="rotate(-30.6 676.5 1066.5)" fill="none" stroke="#000" stroke-width="16" vector-effect="non-scaling-stroke"/>
<ellipse cx="676.5" cy="1066.5" rx="425.1" ry="538.1" transform="rotate(-30.6 676.5 1066.5)" fill="none" stroke="#fff" stroke-width="4" vector-effect="non-scaling-stroke"/>
<ellipse cx="792.7" cy="1007.8" rx="425.1" ry="538.1" transform="rotate(-30.6 792.7 1007.8)" fill="none" stroke="#000" stroke-width="16" vector-effect="non-scaling-stroke"/>
<ellipse cx="792.7" cy="1007.8" rx="425.1" ry="538.1" transform="rotate(-30.6 792.7 1007.8)" fill="none" stroke="#fff" stroke-width="4" vector-effect="non-scaling-stroke"/>
<ellipse cx="909" cy="949" rx="425.1" ry="538.1" transform="rotate(-30.6 909 949)" fill="none" stroke="#000" stroke-width="16" vector-effect="non-scaling-stroke"/>
<ellipse cx="909" cy="949" rx="425.1" ry="538.1" transform="rotate(-30.6 909 949)" fill="none" stroke="#fff" stroke-width="4" vector-effect="non-scaling-stroke"/>
<ellipse cx="1025.2" cy="890.3" rx="425.1" ry="538.1" transform="rotate(-30.6 1025.2 890.3)" fill="none" stroke="#000" stroke-width="16" vector-effect="non-scaling-stroke"/>
<ellipse cx="1025.2" cy="890.3" rx="425.1" ry="538.1" transform="rotate(-30.6 1025.2 890.3)" fill="none" stroke="#fff" stroke-width="4" vector-effect="non-scaling-stroke"/>
<ellipse cx="1141.5" cy="831.5" rx="425.1" ry="538.1" transform="rotate(-30.6 1141.5 831.5)" fill="none" stroke="#000" stroke-width="16" vector-effect="non-scaling-stroke"/>
<ellipse cx="1141.5" cy="831.5" rx="425.1" ry="538.1" transform="rotate(-30.6 1141.5 831.5)" fill="none" stroke="#fff" stroke-width="4" vector-effect="non-scaling-stroke"/>
<ellipse cx="1257.7" cy="772.8" rx="425.1" ry="538.1" transform="rotate(-30.6 1257.7 772.8)" fill="none" stroke="#000" stroke-width="16" vector-effect="non-scaling-stroke"/>
<ellipse cx="1257.7" cy="772.8" rx="425.1" ry="538.1" transform="rotate(-30.6 1257.7 772.8)" fill="none" stroke="#fff" stroke-width="4" vector-effect="non-scaling-stroke"/>
<ellipse cx="1374" cy="714" rx="425.1" ry="538.1" transform="rotate(-30.6 1374 714)" fill="none" stroke="#000" stroke-width="16" vector-effect="non-scaling-stroke"/>
<ellipse cx="1374" cy="714" rx="425.1" ry="538.1" transform="rotate(-30.6 1374 714)" fill="none" stroke="#fff" stroke-width="4" vector-effect="non-scaling-stroke"/>
<ellipse cx="1490.2" cy="655.3" rx="425.1" ry="538.1" transform="rotate(-30.6 1490.2 655.3)" fill="none" stroke="#000" stroke-width="16" vector-effect="non-scaling-stroke"/>
<ellipse cx="1490.2" cy="655.3" rx="425.1" ry="538.1" transform="rotate(-30.6 1490.2 655.3)" fill="none" stroke="#fff" stroke-width="4" vector-effect="non-scaling-stroke"/>
</g>
<!-- stem -->
<g transform="translate(1530 720) scale(0.228833)">
<ellipse cx="887.4" cy="910.4" rx="746" ry="855.7" transform="rotate(-29.8 887.4 910.4)" fill="none" stroke="#000" stroke-width="6" vector-effect="non-scaling-stroke"/>
<ellipse cx="914.4" cy="907.9" rx="713.6" ry="815.7" transform="rotate(-17 914.4 907.9)" fill="none" stroke="#000" stroke-width="3.5" vector-effect="non-scaling-stroke"/>
<ellipse cx="924.6" cy="906.9" rx="701.4" ry="800.6" transform="rotate(-12.2 924.6 906.9)" fill="none" stroke="#000" stroke-width="6" vector-effect="non-scaling-stroke"/>
<ellipse cx="947.4" cy="904.7" rx="674" ry="766.9" transform="rotate(-1.4 947.4 904.7)" fill="none" stroke="#000" stroke-width="6" vector-effect="non-scaling-stroke"/>
</g><g transform="translate(1530 610) scale(0.340948)">
<ellipse cx="1281.4" cy="534.3" rx="215.8" ry="179.9" transform="rotate(57 1281.4 534.3)" fill="none" stroke="#000" stroke-width="5" vector-effect="non-scaling-stroke"/>
<ellipse cx="1292.5" cy="523.5" rx="175" ry="148" transform="rotate(80.5 1292.5 523.5)" fill="none" stroke="#000" stroke-width="15" vector-effect="non-scaling-stroke"/>
<path d="M1215 440 L1860 62 L2000 130 L1990 230 L1800 350 L1330 630 L1210 600 L1180 520Z" fill="#fff"/>
<path d="M1215 440 L1860 62" fill="none" stroke="#000" stroke-width="5" vector-effect="non-scaling-stroke"/>
<path d="M1330 630 L1680 420" fill="none" stroke="#000" stroke-width="5" vector-effect="non-scaling-stroke"/>
<path d="M1215 440 C1210 450 1189.2 478.3 1185 500 C1180.8 521.7 1180.8 550 1190 570 C1199.2 590 1216.7 610 1240 620 C1263.3 630 1315 628.3 1330 630" fill="none" stroke="#000" stroke-width="5" vector-effect="non-scaling-stroke"/>
<path d="M1680 420 L1800 350" fill="none" stroke="#000" stroke-width="5" vector-effect="non-scaling-stroke"/>
<path d="M1860 62 L1960 82 L2005 130 L1995 235 L1965 270 L1800 350 L1690 300 L1660 220 L1700 170" fill="none" stroke="#000" stroke-width="5" vector-effect="non-scaling-stroke"/>
<path d="M1860 62 L1870 200 L1965 270" fill="none" stroke="#000" stroke-width="3.5" vector-effect="non-scaling-stroke"/>
<path d="M1690 280 L1870 200" fill="none" stroke="#000" stroke-width="5" vector-effect="non-scaling-stroke"/>
<ellipse cx="1930" cy="160" rx="62" ry="58" transform="rotate(0 1930 160)" fill="none" stroke="#000" stroke-width="5" vector-effect="non-scaling-stroke"/>
<ellipse cx="1930" cy="160" rx="38" ry="36" transform="rotate(0 1930 160)" fill="none" stroke="#000" stroke-width="3.5" vector-effect="non-scaling-stroke"/>
</g><g transform="translate(1640 780) scale(0.133958)">
<path d="M420 370 L540 370 L790 240 L950 232 L1300 30 L1940 1030 L1520 1330 L1220 1620 L1120 1690 L580 1640 L490 1570 L175 1010 L160 920Z" fill="#fff"/>
<path d="M420 370 L540 370 L790 240 L950 232 L1300 30" fill="none" stroke="#000" stroke-width="5" vector-effect="non-scaling-stroke"/>
<path d="M420 370 L160 920 L175 1010 L490 1570 L580 1640 L1120 1690 L1220 1620 L1520 1330" fill="none" stroke="#000" stroke-width="5" vector-effect="non-scaling-stroke"/>
<path d="M1520 1330 L1940 1030" fill="none" stroke="#000" stroke-width="5" vector-effect="non-scaling-stroke"/>
<path d="M250 930 L570 780" fill="none" stroke="#000" stroke-width="4" vector-effect="non-scaling-stroke"/>
<path d="M270 995 L590 840" fill="none" stroke="#000" stroke-width="4" vector-effect="non-scaling-stroke"/>
<path d="M190 1020 L510 1560" fill="none" stroke="#000" stroke-width="4" vector-effect="non-scaling-stroke"/>
<path d="M275 1000 L560 1500" fill="none" stroke="#000" stroke-width="4" vector-effect="non-scaling-stroke"/>
<path d="M590 840 L860 1340" fill="none" stroke="#000" stroke-width="4" vector-effect="non-scaling-stroke"/>
<path d="M540 800 L830 1350" fill="none" stroke="#000" stroke-width="4" vector-effect="non-scaling-stroke"/>
<path d="M560 1520 L880 1350" fill="none" stroke="#000" stroke-width="4" vector-effect="non-scaling-stroke"/>
<path d="M600 1570 L900 1400" fill="none" stroke="#000" stroke-width="4" vector-effect="non-scaling-stroke"/>
<path d="M900 1380 L1430 1400" fill="none" stroke="#000" stroke-width="4" vector-effect="non-scaling-stroke"/>
<path d="M610 1590 L1130 1640" fill="none" stroke="#000" stroke-width="4" vector-effect="non-scaling-stroke"/>
<path d="M1430 1400 L1170 1600" fill="none" stroke="#000" stroke-width="4" vector-effect="non-scaling-stroke"/>
<path d="M460 420 L260 920" fill="none" stroke="#000" stroke-width="4" vector-effect="non-scaling-stroke"/>
<path d="M760 300 L620 600 L540 770" fill="none" stroke="#000" stroke-width="4" vector-effect="non-scaling-stroke"/>
<path d="M1050 210 C1005 241.7 846.7 331.7 780 400 C713.3 468.3 670 543.3 650 620 C630 696.7 641.7 780 660 860 C678.3 940 720 1031.7 760 1100 C800 1168.3 843.3 1226.7 900 1270 C956.7 1313.3 1033.3 1343 1100 1360 C1166.7 1377 1226.7 1378.7 1300 1372 C1373.3 1365.3 1500 1328.7 1540 1320" fill="none" stroke="#000" stroke-width="5" vector-effect="non-scaling-stroke"/>
<path d="M1300 30 C1275 53.3 1198.3 111.7 1150 170 C1101.7 228.3 1037.5 308.3 1010 380 C982.5 451.7 978.3 521.7 985 600 C991.7 678.3 1014.2 775 1050 850 C1085.8 925 1141.7 998.3 1200 1050 C1258.3 1101.7 1333.3 1138.3 1400 1160 C1466.7 1181.7 1533.3 1188.3 1600 1180 C1666.7 1171.7 1743.3 1136.7 1800 1110 C1856.7 1083.3 1916.7 1035 1940 1020" fill="none" stroke="#000" stroke-width="8" vector-effect="non-scaling-stroke"/>
</g><g transform="translate(1530 610) scale(0.340948)">
<path d="M830 520 L1125 392 L1092 490 L1110 600 L1200 700 L1330 742 L1040 920 L960 950 L880 900Z" fill="#fff"/>
<path d="M825 525 L1125 392" fill="none" stroke="#000" stroke-width="5" vector-effect="non-scaling-stroke"/>
<path d="M1040 920 L1330 745" fill="none" stroke="#000" stroke-width="5" vector-effect="non-scaling-stroke"/>
<path d="M1229.9 329.7 L1223.5 330.6 L1217.1 331.7 L1210.9 333.1 L1204.7 334.8 L1198.6 336.7 L1192.6 338.8 L1186.7 341.2 L1180.9 343.8 L1175.3 346.6 L1169.7 349.7 L1164.4 353 L1159.1 356.5 L1154.1 360.3 L1149.1 364.3 L1144.4 368.4 L1139.8 372.8 L1135.4 377.4 L1131.1 382.1 L1127.1 387.1 L1123.2 392.2 L1119.5 397.5 L1116 403 L1112.8 408.7 L1109.7 414.5 L1106.9 420.4 L1104.2 426.5 L1101.8 432.7 L1099.6 439 L1097.6 445.5 L1095.9 452.1 L1094.4 458.7 L1093.1 465.5 L1092 472.3 L1091.2 479.3 L1090.6 486.3 L1090.3 493.3 L1090.2 500.4 L1090.3 507.6 L1090.6 514.7 L1091.2 521.9 L1092 529.1 L1093.1 536.4 L1094.4 543.6 L1095.9 550.8 L1097.6 558 L1099.6 565.1 L1101.8 572.2 L1104.2 579.3 L1106.9 586.3 L1109.7 593.3 L1112.8 600.2 L1116 607 L1119.5 613.7 L1123.2 620.3 L1127 626.8 L1131.1 633.2 L1135.3 639.5 L1139.8 645.6 L1144.3 651.6 L1149.1 657.5 L1154 663.2 L1159.1 668.7 L1164.4 674.1 L1169.7 679.3 L1175.2 684.4 L1180.9 689.2 L1186.7 693.9 L1192.5 698.3 L1198.5 702.6 L1204.6 706.6 L1210.8 710.5 L1217.1 714.1 L1223.5 717.5 L1229.9 720.7 L1236.4 723.6 L1242.9 726.4 L1249.5 728.8 L1256.2 731.1 L1262.8 733.1 L1269.5 734.8 L1276.2 736.3 L1282.9 737.6 L1289.6 738.6 L1296.3 739.4 L1303 739.9 L1309.7 740.1 L1316.3 740.1 L1322.9 739.9 L1329.4 739.4" fill="none" stroke="#000" stroke-width="5" vector-effect="non-scaling-stroke"/>
</g>
<!-- wheel -->
<g transform="translate(0 0) scale(1.000000)">
<path d="M2209.3 585.7 C2203.2 576.6 2197.7 565.6 2194.2 555.5 C2190.6 545.4 2188.7 535.9 2188.1 525.3 C2187.5 514.7 2189.5 501.6 2190.5 492.1 C2191.5 482.5 2192 477.1 2194.2 468.1 C2196.3 459 2199.7 447.9 2203.2 437.9 C2206.7 427.8 2212.5 418.7 2215.3 407.7 C2218.1 396.6 2219.3 382.5 2219.8 371.4 C2220.3 360.3 2218.1 351.3 2218.3 341.2 C2218.6 331.1 2219.8 320.6 2221.3 311 C2222.9 301.4 2224.4 292.4 2227.4 283.8 C2230.4 275.3 2233.9 267.2 2239.5 259.7 C2245 252.1 2253.1 244.3 2260.6 238.5 C2268.2 232.7 2274.7 228.7 2284.8 224.9 C2294.8 221.2 2308.4 217.9 2321 215.9 C2333.6 213.9 2347.7 213.9 2360.3 212.9 C2372.9 211.8 2384.4 212.1 2396.5 209.8 C2408.6 207.6 2420.2 203.8 2432.8 199.3 C2445.3 194.7 2458.9 186.7 2472 182.7 C2485.1 178.6 2498.7 175.9 2511.3 175.1 C2523.9 174.3 2534.9 174.1 2547.5 178.1 C2560.1 182.1 2575.2 190.2 2586.8 199.3 C2598.4 208.3 2607.9 220.9 2617 232.5 C2626.1 244.1 2632.6 257.2 2641.2 268.7 C2649.7 280.3 2656.3 290.4 2668.3 302 C2680.4 313.5 2701.1 327.6 2713.6 338.2 C2726.2 348.8 2734.8 354.8 2743.8 365.4 C2752.9 375.9 2762.5 388 2768 401.6 C2773.5 415.2 2775.1 430.5 2777.1 446.9 C2779.1 463.3 2780.6 486.9 2780.1 499.9 C2779.6 513 2776.6 516 2774 525.3 C2771.5 534.6 2768 545.4 2765 555.5 C2762 565.6 2758.4 573.1 2755.9 585.7 C2753.4 598.3 2751.4 615.9 2749.9 631 C2748.4 646.1 2749.4 661.2 2746.9 676.3 C2744.3 691.4 2740.3 710 2734.8 721.6 C2729.2 733.2 2722.2 738.7 2713.6 745.8 C2705.1 752.8 2693.5 759.6 2683.4 763.9 C2673.4 768.2 2665.8 769.4 2653.2 771.5 C2640.7 773.5 2623 775 2607.9 776 C2592.8 777 2575.2 776 2562.6 777.5 C2550 779 2542.5 781 2532.4 785 C2522.4 789.1 2512.3 798.4 2502.2 801.7 C2492.2 804.9 2484.6 805.9 2472 804.7 C2459.4 803.4 2441.8 799.9 2426.7 794.1 C2411.6 788.3 2394 779.5 2381.4 769.9 C2368.8 760.4 2360.3 748.8 2351.2 736.7 C2342.2 724.6 2336.1 709.5 2327.1 697.5 C2318 685.4 2307.9 673.8 2296.8 664.2 C2285.8 654.7 2271.7 649.1 2260.6 640.1 C2249.5 631 2239 618.9 2230.4 609.9 C2221.8 600.8 2215.3 594.8 2209.3 585.7Z" fill="none" stroke="#000" stroke-width="7" vector-effect="non-scaling-stroke"/>
<path d="M2290.8 594.8 C2280.7 586.2 2272.7 577.7 2266.6 567.6 C2260.6 557.5 2256.8 545.9 2254.6 534.4 C2252.3 522.8 2249.3 512.7 2253.1 498.1 C2256.8 483.5 2273.4 463 2277.2 446.9 C2281 430.8 2275.7 416.7 2275.7 401.6 C2275.7 386.5 2275.7 371.4 2277.2 356.3 C2278.7 341.2 2281 324.1 2284.8 311 C2288.5 297.9 2292.8 286.8 2299.9 277.8 C2306.9 268.7 2316.5 261.7 2327.1 256.6 C2337.6 251.6 2350.2 248.8 2363.3 247.6 C2376.4 246.3 2392.5 250.9 2405.6 249.1 C2418.7 247.3 2430.7 241 2441.8 237 C2452.9 233 2462 228 2472 224.9 C2482.1 221.9 2492.2 219.6 2502.2 218.9 C2512.3 218.1 2522.4 218.1 2532.4 220.4 C2542.5 222.7 2553.1 225.9 2562.6 232.5 C2572.2 239 2582.8 250.6 2589.8 259.7 C2596.9 268.7 2598.4 277.3 2604.9 286.8 C2611.5 296.4 2621 307.5 2629.1 317.1 C2637.1 326.6 2644.2 336.2 2653.2 344.2 C2662.3 352.3 2673.4 357.8 2683.4 365.4 C2693.5 372.9 2704.6 379.5 2713.6 389.5 C2722.7 399.6 2732.3 413.7 2737.8 425.8 C2743.3 437.9 2744.9 449.7 2746.9 462 C2748.9 474.4 2750.4 489.4 2749.9 499.9 C2749.4 510.5 2745.9 517.6 2743.8 525.3 C2741.8 533.1 2740.3 537.4 2737.8 546.4 C2735.3 555.5 2731.3 566.6 2728.7 579.7 C2726.2 592.8 2724.7 610.4 2722.7 625 C2720.7 639.6 2719.7 654.2 2716.7 667.3 C2713.6 680.3 2712.6 694.4 2704.6 703.5 C2696.5 712.6 2681.9 717.6 2668.3 721.6 C2654.7 725.6 2638.1 726.1 2623 727.7 C2607.9 729.2 2591.3 728.7 2577.7 730.7 C2564.1 732.7 2552.6 736.2 2541.5 739.7 C2530.4 743.3 2522.9 749.6 2511.3 751.8 C2499.7 754.1 2483.6 754.3 2472 753.3 C2460.4 752.3 2451.9 751.1 2441.8 745.8 C2431.8 740.5 2420.7 730.7 2411.6 721.6 C2402.6 712.6 2396.5 703.5 2387.5 691.4 C2378.4 679.3 2367.3 661.2 2357.3 649.1 C2347.2 637.1 2338.1 628 2327.1 618.9 C2316 609.9 2300.9 603.3 2290.8 594.8Z" fill="none" stroke="#000" stroke-width="7" vector-effect="non-scaling-stroke"/>
<path d="M2228.9 580.6 C2222.3 570.3 2217.2 558.6 2214.1 546.9 C2210.9 535.2 2209.9 522.4 2210.3 510.3 C2210.7 498.3 2213.5 486.1 2216.5 474.3 C2219.4 462.5 2224.9 451.1 2228.2 439.3 C2231.4 427.6 2234.4 415.9 2236.1 403.9 C2237.7 391.8 2237.6 379.3 2238.1 367 C2238.7 354.7 2238.2 342.3 2239.6 330.1 C2240.9 317.9 2242.1 305.2 2246.2 293.8 C2250.4 282.4 2256.5 271.1 2264.3 262 C2272 252.9 2282.2 244.9 2292.8 239.2 C2303.4 233.6 2315.8 230.5 2327.7 228.1 C2339.7 225.7 2352.2 225.9 2364.4 224.8 C2376.7 223.8 2389.1 224.1 2401.2 221.8 C2413.2 219.6 2425 215.3 2436.6 211.3 C2448.2 207.2 2459.2 201 2470.9 197.5 C2482.6 194 2494.9 191.2 2507.1 190.5 C2519.2 189.7 2532.1 190 2543.6 193.2 C2555.2 196.5 2566.4 203 2576.2 210 C2585.9 217.1 2594.3 226.5 2602.2 235.8 C2610.1 245.1 2616.3 255.9 2623.6 265.9 C2630.9 275.8 2638 285.9 2645.9 295.3 C2653.8 304.7 2662.1 313.9 2671.2 322.1 C2680.3 330.4 2690.9 336.9 2700.5 344.7 C2710 352.5 2720.2 359.9 2728.5 368.8 C2736.9 377.7 2744.8 387.7 2750.5 398.3 C2756.2 408.9 2759.9 420.7 2762.8 432.5 C2765.8 444.3 2767.2 456.8 2768.1 469 C2769.1 481.2 2770.2 493.7 2768.7 505.8 C2767.2 517.9 2762.6 529.7 2759.3 541.5 C2755.9 553.4 2751.6 565 2748.8 577 C2746.1 589 2744.6 601.3 2743 613.5 C2741.4 625.7 2741 638.1 2739.3 650.3 C2737.7 662.5 2736.5 675 2733.2 686.7 C2729.9 698.3 2726.4 710.9 2719.4 720.3 C2712.4 729.6 2701.7 737 2691.2 742.8 C2680.7 748.5 2668.5 752 2656.6 754.7 C2644.8 757.5 2632.2 758.2 2620 759.3 C2607.7 760.4 2595.3 760.1 2583 761.4 C2570.8 762.8 2558.4 763.9 2546.7 767.3 C2535 770.6 2524.5 778.2 2512.8 781.5 C2501.2 784.9 2488.8 787.5 2476.8 787.3 C2464.8 787.1 2452.1 784.2 2440.6 780.3 C2429.1 776.5 2417.9 770.8 2407.8 764.2 C2397.6 757.6 2388.2 749.5 2379.7 740.8 C2371.2 732.1 2364.1 721.7 2356.9 711.8 C2349.6 701.9 2343.7 690.9 2336.1 681.3 C2328.5 671.6 2320.4 662.1 2311.2 654 C2302.1 645.8 2291 640 2281.4 632.3 C2271.8 624.7 2262.3 616.8 2253.6 608.1 C2244.8 599.5 2235.5 590.8 2228.9 580.6Z" fill="none" stroke="#000" stroke-width="3" vector-effect="non-scaling-stroke"/>
<path d="M2245 576.3 C2238.8 566.5 2234 555.2 2231.2 544 C2228.3 532.7 2227 520.5 2227.7 509 C2228.4 497.5 2232 486.2 2235.4 475.1 C2238.7 464 2245.1 453.4 2247.9 442.2 C2250.7 430.9 2251.3 419.3 2252.2 407.7 C2253.1 396 2253 384.1 2253.6 372.4 C2254.1 360.6 2254 348.8 2255.3 337.1 C2256.7 325.4 2257.8 313.3 2261.5 302.3 C2265.2 291.3 2270.3 280 2277.4 271 C2284.4 262.1 2293.9 254 2303.8 248.4 C2313.7 242.8 2325.6 239.6 2337 237.3 C2348.3 234.9 2360.4 235.2 2372 234.3 C2383.7 233.3 2395.6 233.7 2407 231.4 C2418.5 229.2 2429.7 224.7 2440.8 220.8 C2451.9 216.9 2462.5 211.2 2473.7 208.1 C2485 205 2496.9 202.5 2508.5 202.1 C2520 201.7 2532.3 202.5 2543.3 205.8 C2554.2 209.2 2564.8 215.4 2574 222.4 C2583.2 229.4 2591.1 238.5 2598.4 247.6 C2605.8 256.7 2611.2 267.3 2618.1 276.9 C2625 286.4 2632.2 295.8 2639.8 304.8 C2647.4 313.8 2655 322.9 2663.7 330.8 C2672.4 338.6 2682.8 344.7 2692.1 352 C2701.3 359.3 2711.2 366.2 2719.3 374.6 C2727.4 383 2735 392.4 2740.7 402.4 C2746.5 412.4 2750.8 423.4 2753.9 434.6 C2757.1 445.7 2758.7 457.7 2759.8 469.4 C2761 481 2762.2 493 2760.9 504.6 C2759.6 516.1 2755.1 527.4 2752 538.8 C2748.8 550.2 2744.8 561.4 2742.2 572.8 C2739.6 584.3 2737.9 596 2736.2 607.7 C2734.5 619.3 2733.8 631.2 2732.2 642.8 C2730.7 654.5 2729.7 666.5 2726.7 677.7 C2723.7 689 2721 701.5 2714.5 710.4 C2707.9 719.4 2697.6 726.1 2687.6 731.4 C2677.6 736.8 2665.7 739.8 2654.4 742.3 C2643 744.9 2631 745.6 2619.2 746.7 C2607.5 747.8 2595.6 747.5 2583.9 748.8 C2572.2 750.2 2560.5 751.9 2549.2 755 C2538 758.2 2527.6 764.8 2516.4 767.9 C2505.2 770.9 2493.5 773.3 2482 773.3 C2470.4 773.3 2458.2 771.4 2447.2 767.9 C2436.3 764.4 2425.6 758.8 2416 752.4 C2406.4 746 2397.7 737.8 2389.6 729.4 C2381.6 720.9 2374.8 711.1 2367.8 701.6 C2360.8 692.1 2354.9 681.7 2347.6 672.5 C2340.4 663.3 2332.6 654.3 2324 646.3 C2315.5 638.3 2305.5 631.8 2296.2 624.6 C2287 617.3 2277.1 610.8 2268.6 602.7 C2260 594.7 2251.3 586.1 2245 576.3Z" fill="none" stroke="#000" stroke-width="3" vector-effect="non-scaling-stroke"/>
<path d="M2218.2 583.4 L2251 574.8" fill="none" stroke="#000" stroke-width="3" vector-effect="non-scaling-stroke"/>
<path d="M2203 478.4 L2240.9 479.4" fill="none" stroke="#000" stroke-width="3" vector-effect="non-scaling-stroke"/>
<path d="M2228.2 372.9 L2259.2 383.1" fill="none" stroke="#000" stroke-width="3" vector-effect="non-scaling-stroke"/>
<path d="M2246.5 266.8 L2275.7 285.5" fill="none" stroke="#000" stroke-width="3" vector-effect="non-scaling-stroke"/>
<path d="M2340.4 219.7 L2357.5 237.8" fill="none" stroke="#000" stroke-width="3" vector-effect="non-scaling-stroke"/>
<path d="M2447 199.5 L2454.4 219.5" fill="none" stroke="#000" stroke-width="3" vector-effect="non-scaling-stroke"/>
<path d="M2552.7 188.1 L2551.2 213.6" fill="none" stroke="#000" stroke-width="3" vector-effect="non-scaling-stroke"/>
<path d="M2629.9 262.4 L2618.7 284.4" fill="none" stroke="#000" stroke-width="3" vector-effect="non-scaling-stroke"/>
<path d="M2706.1 339.9 L2689 354.7" fill="none" stroke="#000" stroke-width="3" vector-effect="non-scaling-stroke"/>
<path d="M2767.8 426.5 L2749.7 431.1" fill="none" stroke="#000" stroke-width="3" vector-effect="non-scaling-stroke"/>
<path d="M2766.8 534.2 L2751.7 529.4" fill="none" stroke="#000" stroke-width="3" vector-effect="non-scaling-stroke"/>
<path d="M2745.1 641.1 L2731.1 627.1" fill="none" stroke="#000" stroke-width="3" vector-effect="non-scaling-stroke"/>
<path d="M2710 740.7 L2701.6 719.1" fill="none" stroke="#000" stroke-width="3" vector-effect="non-scaling-stroke"/>
<path d="M2606.2 769 L2606 743" fill="none" stroke="#000" stroke-width="3" vector-effect="non-scaling-stroke"/>
<path d="M2501.7 794.2 L2509.8 766.1" fill="none" stroke="#000" stroke-width="3" vector-effect="non-scaling-stroke"/>
<path d="M2398.1 769.7 L2415.5 745.5" fill="none" stroke="#000" stroke-width="3" vector-effect="non-scaling-stroke"/>
<path d="M2328.4 687.1 L2351.9 669.3" fill="none" stroke="#000" stroke-width="3" vector-effect="non-scaling-stroke"/>
<path d="M2247 615 L2277.6 603.4" fill="none" stroke="#000" stroke-width="3" vector-effect="non-scaling-stroke"/>
</g>
<g transform="translate(0 0) scale(1.000000)">
<ellipse cx="2354.1" cy="339.8" rx="65.7" ry="90.6" transform="rotate(3.3 2354.1 339.8)" fill="none" stroke="#000" stroke-width="6" vector-effect="non-scaling-stroke"/>
<path d="M2387.5 259.7 C2392.5 264.2 2410.9 275.3 2417.7 286.8 C2424.5 298.4 2427.2 315 2428.2 329.1 C2429.2 343.2 2426.5 359.3 2423.7 371.4 C2420.9 383.5 2413.6 396.6 2411.6 401.6" fill="none" stroke="#000" stroke-width="3" vector-effect="non-scaling-stroke"/>
<path d="M2444.8 341.2 C2444.6 332.2 2441.3 302 2443.3 286.8 C2445.3 271.7 2450.6 259.9 2456.9 250.6 C2463.2 241.3 2472.5 235 2481.1 231 C2489.6 226.9 2497.2 224.2 2508.3 226.4 C2519.3 228.7 2536.5 234.5 2547.5 244.6 C2558.6 254.6 2569.2 273.3 2574.7 286.8 C2580.2 300.4 2581.8 313 2580.8 326.1 C2579.7 339.2 2573.2 356.8 2568.7 365.4 C2564.1 373.9 2556.1 375.4 2553.6 377.5" fill="none" stroke="#000" stroke-width="6" vector-effect="non-scaling-stroke"/>
<path d="M2502.2 226.4 C2503.7 225.9 2530.4 232.5 2541.5 241.5 C2552.6 250.6 2562.6 268.2 2568.7 280.8 C2574.7 293.4 2577.7 304 2577.7 317.1 C2577.7 330.1 2569.2 359.3 2568.7 359.3 C2568.2 359.3 2575.7 331.1 2574.7 317.1 C2573.7 303 2569.7 286.8 2562.6 274.8 C2555.6 262.7 2542.5 252.6 2532.4 244.6 C2522.4 236.5 2500.7 226.9 2502.2 226.4Z" fill="#000"/>
<path d="M2580.8 407.7 C2586.8 401.6 2602.4 379 2617 371.4 C2631.6 363.9 2652.2 359.3 2668.3 362.4 C2684.4 365.4 2702.1 378 2713.6 389.5 C2725.2 401.1 2732.8 417.7 2737.8 431.8 C2742.8 445.9 2743.8 464.1 2743.8 474.1 C2743.8 484.1 2742.8 484.1 2737.8 492.1 C2732.8 500.1 2725.2 514.2 2713.6 522.3 C2702.1 530.3 2683.4 538.4 2668.3 540.4 C2653.2 542.4 2631.6 537.4 2623 534.4 C2614.5 531.3 2618 524.3 2617 522.3" fill="none" stroke="#000" stroke-width="6" vector-effect="non-scaling-stroke"/>
<path d="M2586.8 401.6 C2586.8 399.6 2603.4 375.2 2617 368.4 C2630.6 361.6 2662.3 360.3 2668.3 360.8 C2674.4 361.3 2661.8 368.1 2653.2 371.4 C2644.7 374.7 2628.1 375.4 2617 380.5 C2605.9 385.5 2586.8 403.6 2586.8 401.6Z" fill="#000"/>
<path d="M2604.9 576.6 C2612 579.2 2634.6 582.7 2647.2 591.7 C2659.8 600.8 2673.4 617.4 2680.4 631 C2687.5 644.6 2690 660.2 2689.5 673.3 C2689 686.4 2683.4 702 2677.4 709.5 C2671.4 717.1 2664.8 718.6 2653.2 718.6 C2641.7 718.6 2622.5 716.1 2607.9 709.5 C2593.3 703 2577.7 692.4 2565.7 679.3 C2553.6 666.2 2540.5 639.1 2535.4 631" fill="none" stroke="#000" stroke-width="6" vector-effect="non-scaling-stroke"/>
<path d="M2641.2 588.7 C2642.2 587.2 2669.3 608.9 2677.4 622 C2685.5 635 2690.5 652.2 2689.5 667.3 C2688.5 682.4 2672.9 712.6 2671.4 712.6 C2669.8 712.6 2680.4 680.8 2680.4 667.3 C2680.4 653.7 2677.9 644.1 2671.4 631 C2664.8 617.9 2640.2 590.2 2641.2 588.7Z" fill="#000"/>
<ellipse cx="2454" cy="679" rx="64.7" ry="78.2" transform="rotate(-35.2 2454 679)" fill="none" stroke="#000" stroke-width="6" vector-effect="non-scaling-stroke"/>
<path d="M2502.2 625 C2507.3 630 2525.9 644.1 2532.4 655.2 C2539 666.2 2541.5 679.3 2541.5 691.4 C2541.5 703.5 2533.9 721.6 2532.4 727.7" fill="none" stroke="#000" stroke-width="3" vector-effect="non-scaling-stroke"/>
<path d="M2260.6 500.1 C2262.6 493.7 2265.6 472.4 2272.7 462 C2279.7 451.7 2291.8 441.9 2302.9 437.9 C2314 433.8 2328.6 435.8 2339.1 437.9 C2349.7 439.9 2364.3 439.9 2366.3 449.9 C2368.3 460 2351.7 483 2351.2 498.1 C2350.7 513.2 2358.3 528.3 2363.3 540.4 C2368.3 552.5 2375.4 564.1 2381.4 570.6 C2387.5 577.2 2396.5 578.2 2399.5 579.7" fill="none" stroke="#000" stroke-width="6" vector-effect="non-scaling-stroke"/>
<path d="M2260.6 498.1 C2261.6 504.2 2262.1 522.3 2266.6 534.4 C2271.2 546.4 2278.7 560 2287.8 570.6 C2296.8 581.2 2311.4 591.7 2321 597.8 C2330.6 603.8 2337.1 607.4 2345.2 606.8 C2353.2 606.3 2360.3 600.3 2369.3 594.8 C2378.4 589.2 2394.5 577.2 2399.5 573.6" fill="none" stroke="#000" stroke-width="6" vector-effect="non-scaling-stroke"/>
<path d="M2339.1 600.8 C2340.1 598.8 2353.2 593.8 2363.3 588.7 C2373.4 583.7 2396.5 571.1 2399.5 570.6 C2402.6 570.1 2388.5 580.7 2381.4 585.7 C2374.4 590.7 2364.3 598.3 2357.3 600.8 C2350.2 603.3 2338.1 602.8 2339.1 600.8Z" fill="#000"/>
<ellipse cx="2489.0" cy="487.2" rx="119.2" ry="140.3" transform="rotate(-26.89 2489.0 487.2)" fill="#fff" stroke="#000" stroke-width="5"/>
<ellipse cx="2496.2" cy="487.7" rx="40" ry="38" transform="rotate(0 2496.2 487.7)" fill="none" stroke="#000" stroke-width="6" vector-effect="non-scaling-stroke"/>
<ellipse cx="2499.2" cy="484.7" rx="30" ry="29" transform="rotate(0 2499.2 484.7)" fill="none" stroke="#000" stroke-width="3" vector-effect="non-scaling-stroke"/>
<text x="2498.2" y="507.7" font-family="Liberation Sans" font-weight="bold" font-size="58" text-anchor="middle" fill="#000" transform="rotate(-30 2496.2 487.7)">+</text>
<g transform="translate(2408.6 477.1) rotate(-80) scale(0.72 1)"><text x="0" y="0" font-family="Liberation Sans" font-weight="bold" font-size="66" text-anchor="middle" dominant-baseline="central" fill="#000" stroke="#000" stroke-width="4">m</text></g>
<g transform="translate(2411.6 422.8) rotate(-50) scale(0.72 1)"><text x="0" y="0" font-family="Liberation Sans" font-weight="bold" font-size="66" text-anchor="middle" dominant-baseline="central" fill="#000" stroke="#000" stroke-width="4">f</text></g>
<g transform="translate(2435.8 392.6) rotate(-30) scale(0.72 1)"><text x="0" y="0" font-family="Liberation Sans" font-weight="bold" font-size="66" text-anchor="middle" dominant-baseline="central" fill="#000" stroke="#000" stroke-width="4">r</text></g>
<g transform="translate(2472.0 389.5) rotate(-5) scale(0.72 1)"><text x="0" y="0" font-family="Liberation Sans" font-weight="bold" font-size="66" text-anchor="middle" dominant-baseline="central" fill="#000" stroke="#000" stroke-width="4">e</text></g>
<g transform="translate(2508.3 392.6) rotate(15) scale(0.72 1)"><text x="0" y="0" font-family="Liberation Sans" font-weight="bold" font-size="66" text-anchor="middle" dominant-baseline="central" fill="#000" stroke="#000" stroke-width="4">i</text></g>
<g transform="translate(2426.7 537.4) rotate(-130) scale(0.72 1)"><text x="0" y="0" font-family="Liberation Sans" font-weight="bold" font-size="66" text-anchor="middle" dominant-baseline="central" fill="#000" stroke="#000" stroke-width="4">n</text></g>
<g transform="translate(2461.5 569.1) rotate(-170) scale(0.72 1)"><text x="0" y="0" font-family="Liberation Sans" font-weight="bold" font-size="66" text-anchor="middle" dominant-baseline="central" fill="#000" stroke="#000" stroke-width="4">a</text></g>
<g transform="translate(2500.7 585.7) rotate(175) scale(0.72 1)"><text x="0" y="0" font-family="Liberation Sans" font-weight="bold" font-size="66" text-anchor="middle" dominant-baseline="central" fill="#000" stroke="#000" stroke-width="4">r</text></g>
<g transform="translate(2532.4 579.7) rotate(160) scale(0.72 1)"><text x="0" y="0" font-family="Liberation Sans" font-weight="bold" font-size="66" text-anchor="middle" dominant-baseline="central" fill="#000" stroke="#000" stroke-width="4">t</text></g>
<g transform="translate(2562.6 555.5) rotate(140) scale(0.72 1)"><text x="0" y="0" font-family="Liberation Sans" font-weight="bold" font-size="66" text-anchor="middle" dominant-baseline="central" fill="#000" stroke="#000" stroke-width="4">o</text></g>
<g transform="translate(2583.8 525.3) rotate(110) scale(0.72 1)"><text x="0" y="0" font-family="Liberation Sans" font-weight="bold" font-size="66" text-anchor="middle" dominant-baseline="central" fill="#000" stroke="#000" stroke-width="4">l</text></g>
</g>
<g transform="translate(2280 230) scale(0.111607)">
<path d="M250 540 L640 390 L745 545 L590 640 L690 765 L800 640 L1060 1000 L880 1470 L520 1610 L400 1460 L570 1380 L300 950 L210 1140 L100 1000Z" fill="none" stroke="#000" stroke-width="5.5" vector-effect="non-scaling-stroke"/>
<path d="M290 560 L880 1450" fill="none" stroke="#000" stroke-width="10" vector-effect="non-scaling-stroke"/>
<path d="M670 1080 L790 930 L870 1050 L780 1240" fill="none" stroke="#000" stroke-width="5.5" vector-effect="non-scaling-stroke"/>
</g><g transform="translate(2590 370) scale(0.089286)">
<path d="M30 560 L275 485 L270 760 L880 580 L740 380 L980 290 L1340 770" fill="none" stroke="#000" stroke-width="5.5" vector-effect="non-scaling-stroke"/>
<path d="M230 1040 L1345 800" fill="none" stroke="#000" stroke-width="10" vector-effect="non-scaling-stroke"/>
<path d="M270 1120 L470 1360 L640 1320 L540 1040" fill="none" stroke="#000" stroke-width="5.5" vector-effect="non-scaling-stroke"/>
<path d="M1345 800 L1360 860 L1335 1400 L1100 1470 L1080 1200 L900 1260 L960 1520 L420 1690 L300 1560" fill="none" stroke="#000" stroke-width="5.5" vector-effect="non-scaling-stroke"/>
<path d="M30 560 L230 1040" fill="none" stroke="#000" stroke-width="5.5" vector-effect="non-scaling-stroke"/>
</g><g transform="translate(2390 610) scale(0.089286)">
<path d="M660 170 L160 200 L160 680 L410 740 L400 920 L150 800 L160 950 L640 1300" fill="none" stroke="#000" stroke-width="5.5" vector-effect="non-scaling-stroke"/>
<path d="M660 170 L660 360 L420 390 L420 560 L660 620" fill="none" stroke="#000" stroke-width="5.5" vector-effect="non-scaling-stroke"/>
<path d="M700 180 L700 1400" fill="none" stroke="#000" stroke-width="10" vector-effect="non-scaling-stroke"/>
<path d="M740 200 L1220 560 L1230 760 L1210 790 L990 620 L990 1150 L1220 1180 L1220 1390 L700 1400" fill="none" stroke="#000" stroke-width="5.5" vector-effect="non-scaling-stroke"/>
</g>
</svg>
</body></html>
